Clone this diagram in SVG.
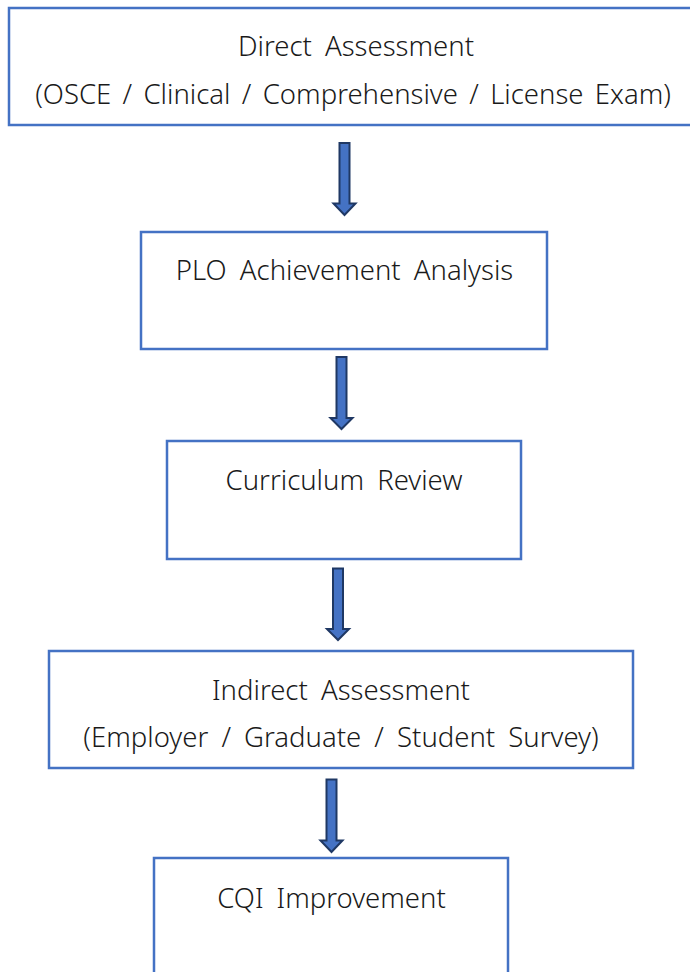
<svg xmlns="http://www.w3.org/2000/svg" width="690" height="972" viewBox="0 0 690 972">
<style>
.box{fill:#fff;stroke:#4472C4;stroke-width:2.5}
.t{font-family:"Noto Sans","Open Sans",sans-serif;font-size:27.5px;font-weight:300;fill:#1a1a1a;text-anchor:middle;word-spacing:6px}
.arr{fill:#4472C4;stroke:#1F3864;stroke-width:2;stroke-linejoin:miter}
</style>
<rect width="690" height="972" fill="#fff"/>
<g id="n1"><rect class="box" x="9" y="8" width="700" height="117"/>
<text class="t" x="356" y="56">Direct Assessment</text>
<text class="t" x="353" y="104" style="word-spacing:4.2px">(OSCE / Clinical / Comprehensive / License Exam)</text></g>
<g id="n2"><rect class="box" x="141" y="232" width="406" height="117"/>
<text class="t" x="344.5" y="280">PLO Achievement Analysis</text></g>
<g id="n3"><rect class="box" x="167" y="441" width="354" height="118"/>
<text class="t" x="344" y="490">Curriculum Review</text></g>
<g id="n4"><rect class="box" x="49" y="651" width="584" height="117"/>
<text class="t" x="341" y="700">Indirect Assessment</text>
<text class="t" x="341" y="747">(Employer / Graduate / Student Survey)</text></g>
<g id="n5"><rect class="box" x="154" y="858" width="354" height="130"/>
<text class="t" x="331.5" y="908">CQI Improvement</text></g>
<g id="connectors">
<path class="arr" d="M339.5,143 H349.5 V203.5 H355.5 L344.5,215 L333.5,203.5 H339.5 Z"/>
<path class="arr" d="M336.5,357 H346.5 V418 H352.5 L341.5,429 L330.5,418 H336.5 Z"/>
<path class="arr" d="M333,568.5 H343 V629 H349 L338,640 L327,629 H333 Z"/>
<path class="arr" d="M326.5,779.5 H336.5 V840.5 H342.5 L331.5,852 L320.5,840.5 H326.5 Z"/>
</g>
</svg>
